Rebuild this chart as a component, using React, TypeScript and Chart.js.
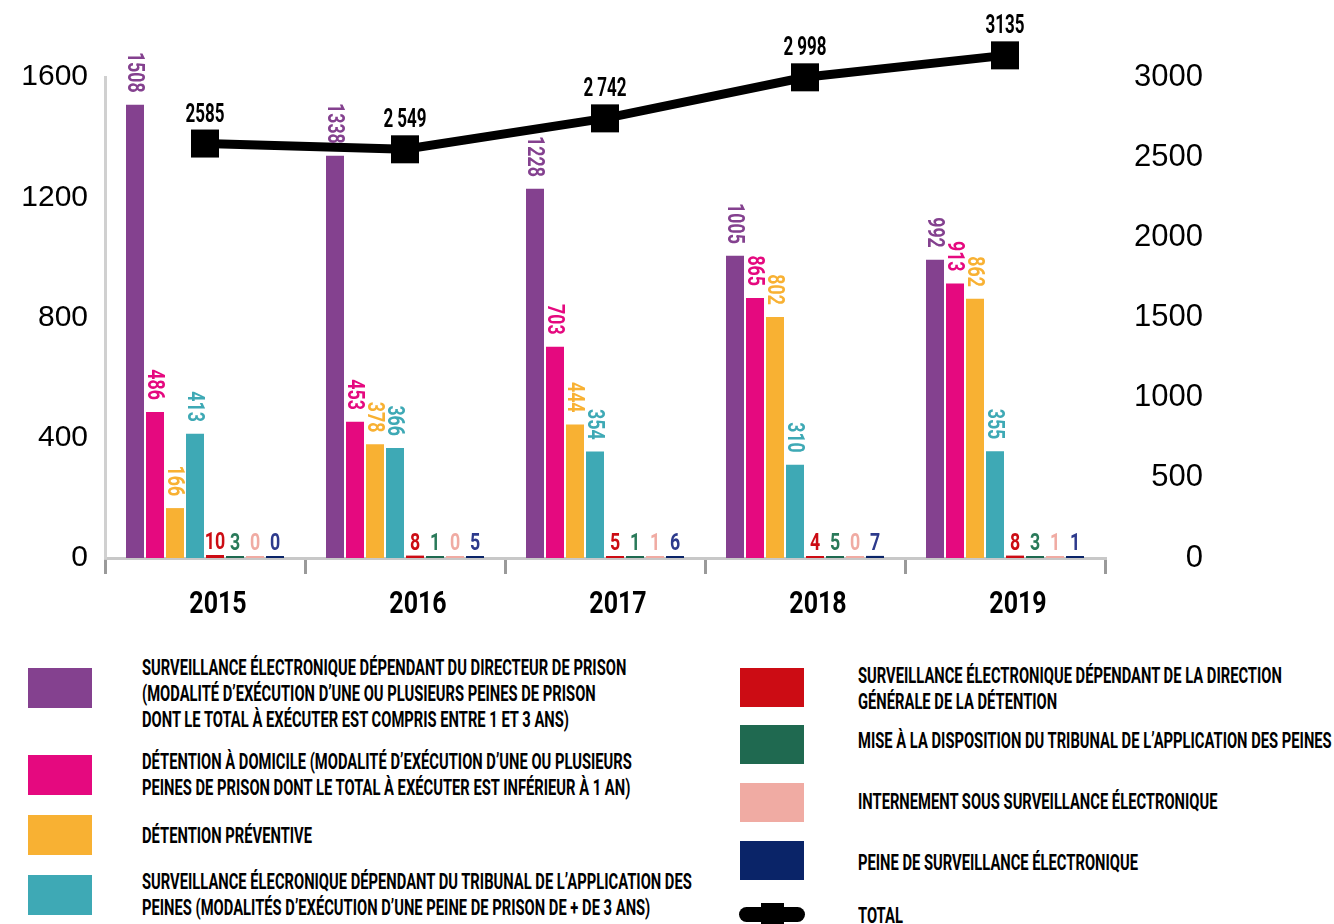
import React, { useEffect, useRef } from "react";
import { Chart, registerables } from "chart.js";

Chart.register(...registerables);

// ---------- data ----------
const years = ["2015", "2016", "2017", "2018", "2019"];

const directeurPrison = [1508, 1338, 1228, 1005, 992];
const detentionDomicile = [486, 453, 703, 865, 913];
const detentionPreventive = [166, 378, 444, 802, 862];
const tribunalApplication = [413, 366, 354, 310, 355];
const directionGenerale = [10, 8, 5, 4, 8];
const miseDisposition = [3, 1, 1, 5, 3];
const internement = [0, 0, 1, 0, 1];
const peineSurveillance = [0, 5, 6, 7, 1];
const totals = [2585, 2549, 2742, 2998, 3135];
const totalLabels = ["2585", "2 549", "2 742", "2 998", "3135"];

const leftTicks = [0, 400, 800, 1200, 1600];
const rightTicks = [0, 500, 1000, 1500, 2000, 2500, 3000];

const seriesNames = [
  "Surveillance électronique dépendant du directeur de prison",
  "Détention à domicile",
  "Détention préventive",
  "Surveillance électronique dépendant du tribunal de l'application des peines",
  "Surveillance électronique dépendant de la direction générale de la détention",
  "Mise à la disposition du tribunal de l'application des peines",
  "Internement sous surveillance électronique",
  "Peine de surveillance électronique",
];
const seriesValues = [
  directeurPrison,
  detentionDomicile,
  detentionPreventive,
  tribunalApplication,
  directionGenerale,
  miseDisposition,
  internement,
  peineSurveillance,
];
const seriesColors = [
  "#84418f",
  "#e5097f",
  "#f8b133",
  "#3ea9b5",
  "#cc0c14",
  "#1f6950",
  "#f0aba3",
  "#0a2468",
];
const labelColors = [
  "#84418f",
  "#e5097f",
  "#f8b133",
  "#3ea9b5",
  "#cc0c14",
  "#2a7a5a",
  "#f0aba3",
  "#2d3a8c",
];

const legendLeft = [
  [
    "SURVEILLANCE ÉLECTRONIQUE DÉPENDANT DU DIRECTEUR DE PRISON",
    "(MODALITÉ D’EXÉCUTION D’UNE OU PLUSIEURS PEINES DE PRISON",
    "DONT LE TOTAL À EXÉCUTER EST COMPRIS ENTRE 1 ET 3 ANS)",
  ],
  [
    "DÉTENTION À DOMICILE (MODALITÉ D’EXÉCUTION D’UNE OU PLUSIEURS",
    "PEINES DE PRISON DONT LE TOTAL À EXÉCUTER EST INFÉRIEUR À 1 AN)",
  ],
  ["DÉTENTION PRÉVENTIVE"],
  [
    "SURVEILLANCE ÉLECRONIQUE DÉPENDANT DU TRIBUNAL DE L’APPLICATION DES",
    "PEINES (MODALITÉS D’EXÉCUTION D’UNE PEINE DE PRISON DE + DE 3 ANS)",
  ],
];
const legendRight = [
  [
    "SURVEILLANCE ÉLECTRONIQUE DÉPENDANT DE LA DIRECTION",
    "GÉNÉRALE DE LA DÉTENTION",
  ],
  ["MISE À LA DISPOSITION DU TRIBUNAL DE L’APPLICATION DES PEINES"],
  ["INTERNEMENT SOUS SURVEILLANCE ÉLECTRONIQUE"],
  ["PEINE DE SURVEILLANCE ÉLECTRONIQUE"],
  ["TOTAL"],
];

const FONT = 'Roboto, "Liberation Sans", sans-serif';
const AXIS_FONT = '"Liberation Sans", Arial, sans-serif';

function condensedText(
  ctx: CanvasRenderingContext2D,
  text: string,
  x: number,
  y: number,
  sx: number,
  rotate: number
) {
  ctx.save();
  ctx.translate(x, y);
  if (rotate) ctx.rotate(rotate);
  ctx.scale(sx, 1);
  ctx.fillText(text, 0, 0);
  ctx.restore();
}

const labelPlugin = {
  id: "valueLabels",
  afterDraw(chart: any) {
    const ctx = chart.ctx as CanvasRenderingContext2D;
    // category labels
    const xs = chart.scales.x;
    ctx.save();
    ctx.fillStyle = "#000";
    ctx.font = `bold 32px ${FONT}`;
    ctx.textAlign = "center";
    ctx.textBaseline = "alphabetic";
    years.forEach((yr, i) => {
      condensedText(ctx, yr, xs.getPixelForValue(i) + 13, 613, 0.78, 0);
    });
    ctx.restore();

    chart.data.datasets.forEach((ds: any, i: number) => {
      const meta = chart.getDatasetMeta(i);
      meta.data.forEach((el: any, j: number) => {
        const v = ds.data[j];
        ctx.save();
        if (ds.type === "line") {
          // square marker
          ctx.fillStyle = "#000";
          ctx.fillRect(el.x - 14, el.y - 14, 28, 28);
          ctx.font = `bold 25px ${FONT}`;
          ctx.textAlign = "center";
          ctx.textBaseline = "alphabetic";
          condensedText(ctx, totalLabels[j], el.x, el.y - 22, 0.68, 0);
        } else {
          ctx.fillStyle = labelColors[i];
          ctx.font = `bold 24px ${FONT}`;
          if (v >= 100) {
            ctx.textAlign = "right";
            ctx.textBaseline = "middle";
            condensedText(ctx, String(v), el.x - 1, el.y - 12, 0.74, Math.PI / 2);
          } else {
            ctx.textAlign = "center";
            ctx.textBaseline = "alphabetic";
            condensedText(ctx, String(v), el.x, el.y - 6, 0.74, 0);
          }
        }
        ctx.restore();
      });
    });
  },
};

function ChartCanvas() {
  const ref = useRef<HTMLCanvasElement | null>(null);
  useEffect(() => {
    if (!ref.current) return;
    const barSets = seriesValues.map((vals, i) => ({
      type: "bar" as const,
      label: seriesNames[i],
      data: vals,
      backgroundColor: seriesColors[i],
      yAxisID: "y",
      order: 1,
      minBarLength: 2,
    }));
    const chart = new Chart(ref.current, {
      type: "bar",
      data: {
        labels: years,
        datasets: [
          ...barSets,
          {
            type: "line" as const,
            label: "Total",
            data: totals,
            yAxisID: "y2",
            borderColor: "#000",
            backgroundColor: "#000",
            borderWidth: 9,
            pointRadius: 0,
            tension: 0,
            order: 0,
            clip: false,
          } as any,
        ],
      },
      options: {
        responsive: false,
        animation: false,
        layout: { padding: { left: 0, right: 131, top: 77, bottom: 0 } },
        plugins: {
          legend: { display: false },
          tooltip: { enabled: false },
        },
        scales: {
          x: {
            offset: true,
            grid: {
              display: true,
              drawOnChartArea: false,
              drawTicks: true,
              tickLength: 16,
              color: "#9a9a9a",
              lineWidth: 3,
              offset: true,
            },
            border: { display: true, color: "#c8c8c8", width: 3 },
            ticks: { display: false },
            afterFit: (s: any) => {
              s.height = 82;
            },
          },
          y: {
            position: "left",
            min: 0,
            max: 1600,
            afterBuildTicks: (s: any) => {
              s.ticks = leftTicks.map((v) => ({ value: v }));
            },
            grid: { display: false, drawTicks: false },
            border: { display: true, color: "#d0d0d0", width: 3 },
            ticks: {
              color: "#000",
              font: { family: AXIS_FONT, size: 30 },
              padding: 17,
              callback: (v: any) => String(v),
            },
            afterFit: (s: any) => {
              s.width = 105;
            },
          },
          y2: {
            position: "right",
            min: 0,
            max: 3000,
            afterBuildTicks: (s: any) => {
              s.ticks = rightTicks.map((v) => ({ value: v }));
            },
            grid: { display: false },
            border: { display: false },
            ticks: {
              color: "#000",
              font: { family: AXIS_FONT, size: 31 },
              crossAlign: "far",
              callback: (v: any) => String(v),
            },
            afterFit: (s: any) => {
              s.width = 98;
            },
          },
        },
      },
      plugins: [labelPlugin],
    });
    return () => chart.destroy();
  }, []);
  return (
    <canvas
      ref={ref}
      width={1334}
      height={640}
      style={{ display: "block", width: 1334, height: 640 }}
    />
  );
}

const textStyle: React.CSSProperties = {
  position: "absolute",
  fontFamily: FONT,
  fontWeight: 700,
  fontSize: 22,
  lineHeight: "26px",
  color: "#000",
  whiteSpace: "nowrap",
  transform: "scaleX(0.67)",
  transformOrigin: "left top",
};

export default function App() {
  const leftSwatchTops = [668, 755, 815, 875];
  const leftTextTops = [655, 749, 823, 869];
  const rightSwatchTops = [668, 725, 783, 841];
  const rightTextTops = [663, 728, 789, 850, 903];
  return (
    <div
      style={{
        position: "absolute",
        left: 0,
        top: 0,
        width: 1334,
        height: 924,
        overflow: "hidden",
        background: "#fff",
      }}
    >
      <ChartCanvas />
      {legendLeft.map((lines, i) => (
        <React.Fragment key={"l" + i}>
          <div
            style={{
              position: "absolute",
              left: 28,
              top: leftSwatchTops[i],
              width: 64,
              height: 40,
              background: seriesColors[i],
            }}
          />
          <div style={{ ...textStyle, left: 142, top: leftTextTops[i] }}>
            {lines.map((t, k) => (
              <div key={k}>{t}</div>
            ))}
          </div>
        </React.Fragment>
      ))}
      {legendRight.map((lines, i) => (
        <React.Fragment key={"r" + i}>
          {i < 4 ? (
            <div
              style={{
                position: "absolute",
                left: 740,
                top: rightSwatchTops[i],
                width: 64,
                height: 39,
                background: seriesColors[4 + i],
              }}
            />
          ) : (
            <>
              <div
                style={{
                  position: "absolute",
                  left: 739,
                  top: 907,
                  width: 66,
                  height: 15,
                  borderRadius: 8,
                  background: "#000",
                }}
              />
              <div
                style={{
                  position: "absolute",
                  left: 761,
                  top: 903,
                  width: 23,
                  height: 24,
                  background: "#000",
                }}
              />
            </>
          )}
          <div style={{ ...textStyle, left: 858, top: rightTextTops[i] }}>
            {lines.map((t, k) => (
              <div key={k}>{t}</div>
            ))}
          </div>
        </React.Fragment>
      ))}
    </div>
  );
}
